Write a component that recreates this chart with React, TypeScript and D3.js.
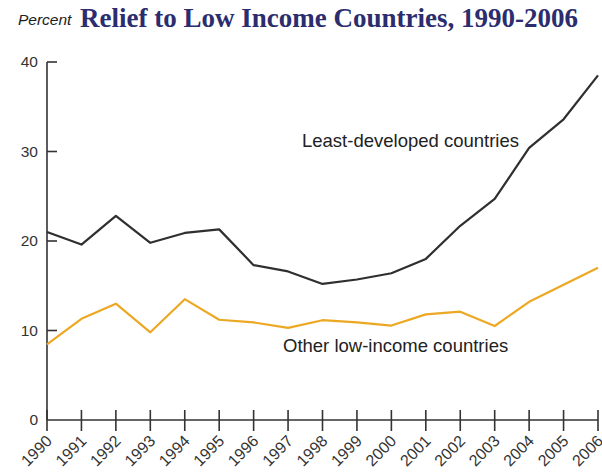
import React from 'react';
import * as d3 from 'd3';

const years = [1990, 1991, 1992, 1993, 1994, 1995, 1996, 1997, 1998, 1999, 2000, 2001, 2002, 2003, 2004, 2005, 2006];
const leastDeveloped = [21.0, 19.6, 22.8, 19.8, 20.9, 21.3, 17.3, 16.6, 15.2, 15.7, 16.4, 18.0, 21.7, 24.7, 30.4, 33.6, 38.5];
const otherLowIncome = [8.45, 11.3, 13.0, 9.8, 13.5, 11.2, 10.9, 10.3, 11.15, 10.9, 10.55, 11.8, 12.1, 10.5, 13.2, 15.1, 17.0];
const yTicks = [0, 10, 20, 30, 40];

export default function App() {
  const width = 602;
  const height = 476;
  const left = 47;
  const right = 598;
  const top = 62;
  const bottom = 420;

  const x = d3.scaleLinear().domain([1990, 2006]).range([left, right]);
  const y = d3.scaleLinear().domain([0, 40]).range([bottom, top]);

  const line = d3.line<[number, number]>()
    .x(d => x(d[0]))
    .y(d => y(d[1]));

  const ldPath = line(years.map((yr, i) => [yr, leastDeveloped[i]] as [number, number])) || '';
  const olPath = line(years.map((yr, i) => [yr, otherLowIncome[i]] as [number, number])) || '';

  const axisColor = '#333';
  const sans = 'Liberation Sans, Arial, Helvetica, sans-serif';

  return (
    <svg width={width} height={height} style={{ position: 'absolute', left: 0, top: 0, background: '#fff' }}>
      <text x={18} y={25} fontFamily={sans} fontStyle="italic" fontSize={15.5} fill="#222">Percent</text>
      <text x={80} y={27} fontFamily="Liberation Serif, 'Times New Roman', serif" fontWeight="bold" fontSize={27} fill="#2b2d6e">
        Relief to Low Income Countries, 1990-2006
      </text>

      {/* y axis */}
      <line x1={left} x2={left} y1={top} y2={bottom} stroke={axisColor} strokeWidth={1.6} />
      {yTicks.map(t => (
        <g key={t}>
          {t > 0 && <line x1={left} x2={left + 10} y1={y(t)} y2={y(t)} stroke={axisColor} strokeWidth={1.6} />}
          <text x={38} y={y(t)} dy="0.35em" textAnchor="end" fontFamily={sans} fontSize={15.5} fill="#333">{t}</text>
        </g>
      ))}

      {/* x axis */}
      <line x1={left} x2={right} y1={bottom} y2={bottom} stroke={axisColor} strokeWidth={1.6} />
      {years.map(yr => (
        <g key={yr}>
          <line x1={x(yr)} x2={x(yr)} y1={bottom - 10} y2={bottom + 11} stroke={axisColor} strokeWidth={1.6} />
          <text
            transform={`translate(${x(yr) + 6},${bottom + 22}) rotate(-45)`}
            textAnchor="end"
            fontFamily={sans}
            fontSize={16}
            fill="#333"
          >
            {yr}
          </text>
        </g>
      ))}

      <path d={olPath} fill="none" stroke="#eda823" strokeWidth={2.2} strokeLinejoin="round" />
      <path d={ldPath} fill="none" stroke="#2f2f2f" strokeWidth={2.2} strokeLinejoin="round" />

      <text x={302} y={147} fontFamily={sans} fontSize={18.5} fill="#222">Least-developed countries</text>
      <text x={283} y={352} fontFamily={sans} fontSize={18.5} fill="#222">Other low-income countries</text>
    </svg>
  );
}
